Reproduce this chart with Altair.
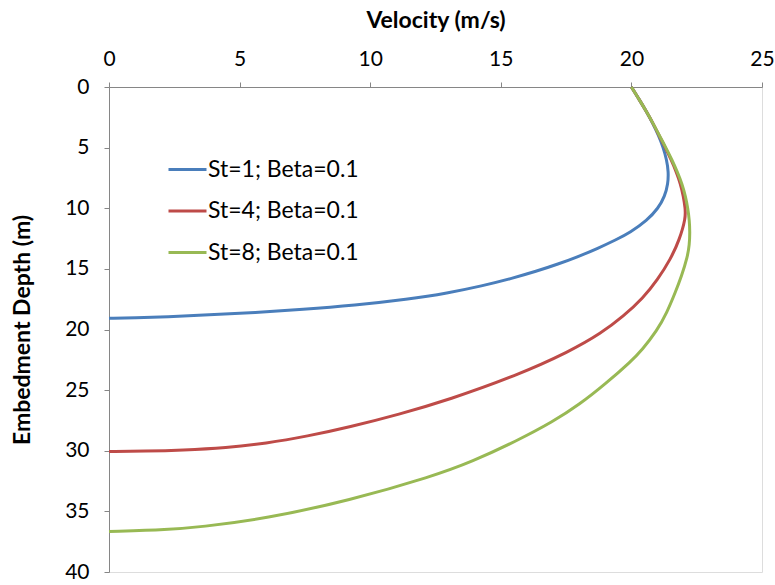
import altair as alt
import pandas as pd

series_names = ["St=1; Beta=0.1", "St=4; Beta=0.1", "St=8; Beta=0.1"]
series_colors = ["#4A7EBB", "#BE4B48", "#98B954"]

blue_depth = [0, 1, 2, 3, 4, 5, 6, 7, 8, 9, 10, 11, 12, 12.6, 13.3, 14, 14.6, 15.2, 15.8, 16.4, 17.0, 17.5, 18.0, 18.35, 18.6, 18.8, 18.95, 19.04, 19.08]
blue_vel = [20.0, 20.29, 20.57, 20.82, 21.04, 21.22, 21.35, 21.42, 21.4, 21.28, 21.03, 20.6, 19.95, 19.41, 18.72, 17.95, 17.2, 16.36, 15.4, 14.29, 12.96, 11.45, 9.4, 7.4, 5.6, 3.8, 2.2, 1.0, 0.0]

red_depth = [0, 1, 2, 3, 4, 5, 6, 7, 8, 9, 10, 10.8, 12.6, 14.2, 15.9, 17.4, 18.9, 20.3, 21.8, 23.8, 25.8, 27, 28.05, 28.8, 29.4, 29.75, 29.95, 30.03, 30.06]
red_vel = [20.0, 20.29, 20.57, 20.83, 21.06, 21.3, 21.52, 21.72, 21.88, 21.99, 22.06, 22.08, 21.84, 21.5, 21.0, 20.45, 19.7, 18.85, 17.65, 15.6, 13.0, 11.1, 9.2, 7.6, 6.0, 4.5, 2.8, 1.4, 0.0]

green_depth = [0, 1, 2, 3, 4, 5, 6, 7, 8, 9, 10, 11, 12, 13, 14, 15.6, 17, 18.6, 20.1, 21.7, 22.6, 24.5, 26.2, 27.6, 29.2, 30.9, 32.1, 34.1, 35.6, 36.3, 36.5, 36.66]
green_vel = [20.0, 20.29, 20.57, 20.83, 21.07, 21.32, 21.55, 21.76, 21.94, 22.07, 22.16, 22.22, 22.24, 22.22, 22.15, 21.92, 21.67, 21.36, 20.98, 20.4, 20.0, 19.0, 18.0, 17.0, 15.6, 13.9, 12.4, 9.2, 6.0, 3.46, 2.3, 0.0]

x_ticks = [0, 5, 10, 15, 20, 25]
y_ticks = [0, 5, 10, 15, 20, 25, 30, 35, 40]

rows = []
for name, dep, vel in zip(series_names, [blue_depth, red_depth, green_depth], [blue_vel, red_vel, green_vel]):
    for d, v in zip(dep, vel):
        rows.append({"series": name, "depth": d, "velocity": v})
df = pd.DataFrame(rows)

FONT = "Lato"

chart = alt.Chart(df).mark_line(strokeWidth=3, interpolate="basis").encode(
    x=alt.X("velocity:Q",
            scale=alt.Scale(domain=[0, 25], nice=False, zero=False),
            axis=alt.Axis(orient="top", values=x_ticks, title="Velocity (m/s)",
                          grid=False, domainColor="#868686", tickColor="#868686",
                          tickSize=5, labelPadding=13, labelFontSize=21, labelColor="#000000",
                          labelFont=FONT, titleFont=FONT, titleFontSize=23, titleFontWeight="bold",
                          titleColor="#000000", titlePadding=16, labelFlush=False)),
    y=alt.Y("depth:Q",
            scale=alt.Scale(domain=[0, 40], reverse=True, nice=False, zero=False),
            axis=alt.Axis(values=y_ticks, title="Embedment Depth (m)",
                          grid=False, domainColor="#868686", tickColor="#868686",
                          tickSize=5, labelPadding=15, labelFontSize=21, labelColor="#000000",
                          labelFont=FONT, titleFont=FONT, titleFontSize=23, titleFontWeight="bold",
                          titleColor="#000000", titlePadding=30, labelFlush=False)),
    color=alt.Color("series:N",
                    scale=alt.Scale(domain=series_names, range=series_colors),
                    legend=alt.Legend(orient="none", legendX=58, legendY=62, title=None,
                                      symbolType="stroke", symbolSize=1444, symbolStrokeWidth=3,
                                      labelFontSize=23, labelFont=FONT, labelColor="#000000",
                                      labelOffset=0, rowPadding=8.5, padding=0)),
    order=alt.Order("depth:Q"),
    detail="series:N",
).properties(
    width=653,
    height=485,
    autosize=alt.AutoSizeParams(type="none"),
    padding={"left": 109, "top": 87, "right": 13, "bottom": 13},
).configure_view(stroke=None).configure(background="white")

chart.save("out.html", embed_options={"renderer": "svg", "actions": False})
